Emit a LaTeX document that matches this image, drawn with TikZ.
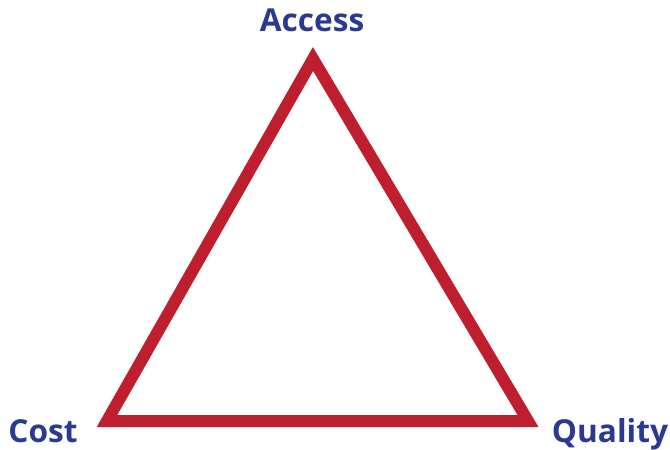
\documentclass[tikz,border=0pt]{standalone}
\usepackage{fontspec}
\setmainfont{Open Sans}
\usetikzlibrary{positioning}
\definecolor{corner}{HTML}{2B3990}
\definecolor{edge}{HTML}{BE1E2D}

\begin{document}
\begin{tikzpicture}[x=0.03cm,y=-0.03cm,font=\fontsize{27}{30}\selectfont\bfseries,
  lab/.style={text=corner,inner sep=0pt,anchor=base}]
\useasboundingbox (0,0) rectangle (670,450);
\coordinate (top) at (313,59); \coordinate (left) at (107,421); \coordinate (right) at (528,421);
\draw[edge,line width=0.36cm,miter limit=4] (top) -- (left) -- (right) -- cycle;
\node[lab] (access) at (312,32) {Access};
\node[lab] (cost) at (43,442) {Cost};
\node[lab] (quality) at (610,442) {Quality};
\end{tikzpicture}
\end{document}
